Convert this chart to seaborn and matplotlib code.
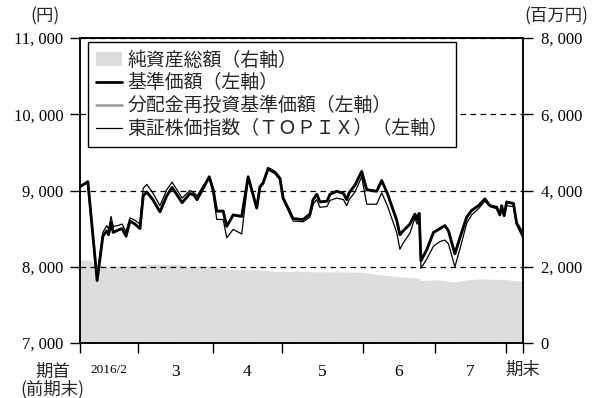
import numpy as np
import pandas as pd
import seaborn as sns
import matplotlib.pyplot as plt
from matplotlib.patches import Patch
from matplotlib.lines import Line2D
from matplotlib.ticker import FuncFormatter

sns.set_theme(style="ticks")
plt.rcParams['font.family'] = ['Liberation Serif', 'Noto Sans CJK JP']

# position in trading days from 期首 (0) to 期末 (124)
day = [0, 2.2, 4.8, 6.4, 7.5, 8.0, 8.7, 9.3, 10.6, 11.8, 12.9, 14.0, 15.4, 16.8,
       17.7, 18.7, 20.4, 22.4, 24.3, 25.8, 28.6, 30.8, 31.9, 32.8, 34.5, 36.2,
       37.3, 38.3, 40.1, 41.1, 42.9, 45.3, 47.1, 49.5, 50.4, 51.3, 52.7, 54.6,
       56.0, 56.9, 59.7, 62.5, 64.4, 65.3, 66.3, 67.2, 69.2, 70.0, 71.9, 73.8,
       74.7, 75.4, 77.0, 78.9, 80.3, 83.1, 84.5, 86.1, 88.7, 89.6, 90.5, 92.4,
       93.8, 94.4, 95.0, 95.5, 97.1, 99.0, 100.8, 102.2, 103.2, 105.0, 106.4,
       108.3, 109.7, 111.6, 113.4, 114.8, 116.7, 117.6, 118.1, 118.8, 119.5,
       121.4, 122.3, 124.0]

# 基準価額 (円)
nav = [9050, 9115, 7820, 8400, 8470, 8420, 8580, 8450, 8480, 8500, 8400, 8600, 8560, 8500,
       8930, 8980, 8880, 8720, 8930, 9040, 8840, 8960, 8940, 8880, 9030, 9180,
       9010, 8730, 8730, 8530, 8680, 8660, 9180, 8770, 9050, 9100, 9290, 9240,
       9160, 8900, 8630, 8620, 8690, 8880, 8950, 8850, 8860, 8950, 8990, 8960,
       8880, 8970, 9070, 9250, 9010, 8990, 9130, 8960, 8610, 8420, 8470, 8560,
       8690, 8620, 8700, 8080, 8220, 8450, 8500, 8540, 8470, 8170, 8380,
       8650, 8740, 8800, 8890, 8800, 8780, 8680, 8800, 8670, 8850,
       8830, 8570, 8440]

# 分配金再投資基準価額 (円) - no distribution during the period
reinvest = [9050, 9115, 7820, 8400, 8470, 8420, 8580, 8450, 8480, 8500, 8400, 8600, 8560, 8500,
            8930, 8980, 8880, 8720, 8930, 9040, 8840, 8960, 8940, 8880, 9030, 9180,
            9010, 8730, 8730, 8530, 8680, 8660, 9180, 8770, 9050, 9100, 9290, 9240,
            9160, 8900, 8630, 8620, 8690, 8880, 8950, 8850, 8860, 8950, 8990, 8960,
            8880, 8970, 9070, 9250, 9010, 8990, 9130, 8960, 8610, 8420, 8470, 8560,
            8690, 8620, 8700, 8080, 8220, 8450, 8500, 8540, 8470, 8170, 8380,
            8650, 8740, 8800, 8890, 8800, 8780, 8680, 8800, 8670, 8850,
            8830, 8570, 8440]

# 東証株価指数 (TOPIX), rebased to the fund
topix = [9050, 9110, 7830, 8450, 8540, 8490, 8660, 8530, 8540, 8560, 8460, 8640, 8610, 8560,
         9030, 9080, 8970, 8800, 9010, 9110, 8900, 9000, 8970, 8930, 9060, 9170,
         8960, 8620, 8620, 8380, 8490, 8430, 9150, 8760, 9030, 9080, 9270, 9220,
         9140, 8880, 8600, 8590, 8650, 8820, 8880, 8780, 8790, 8870, 8900, 8880,
         8800, 8880, 8980, 9180, 8820, 8820, 8970, 8800, 8450, 8230, 8310, 8440,
         8640, 8560, 8650, 7980, 8100, 8270, 8330, 8350, 8300, 8000, 8230,
         8570, 8680, 8760, 8860, 8790, 8760, 8690, 8780, 8660, 8800,
         8790, 8550, 8380]

# 純資産総額 (百万円)
asset_day = [0, 3, 4, 10, 17, 19, 28, 30, 38, 40, 50, 55, 65, 79, 82, 90, 95,
             95.5, 100, 105, 108, 112, 119, 124]
net_assets = [2180, 2170, 2030, 2020, 2030, 2070, 2060, 2020, 2010, 1940, 1920, 1880,
              1870, 1860, 1810, 1730, 1700, 1640, 1660, 1600, 1650, 1680, 1670, 1610]

month_edges = [0, 16.3, 37.3, 56.5, 79.2, 99.4, 119.3, 124]
month_labels = ['2016/2', '3', '4', '5', '6', '7']

df = pd.DataFrame({'day': day, 'nav': nav, 'reinvest': reinvest, 'topix': topix})

fig = plt.figure(figsize=(5.93, 3.98), dpi=100)
ax = fig.add_axes([0.1349, 0.1382, 0.7466, 0.7663])
ax2 = ax.twinx()

ax2.fill_between(asset_day, net_assets, color='#dcdddd', lw=0)
ax2.set_ylim(0, 8000)
ax2.set_yticks([0, 2000, 4000, 6000, 8000])
ax.set_zorder(ax2.get_zorder() + 1)
ax.patch.set_visible(False)

sns.lineplot(data=df, x='day', y='reinvest', ax=ax, color='#999999', lw=1.8, estimator=None)
sns.lineplot(data=df, x='day', y='topix', ax=ax, color='black', lw=0.9, estimator=None)
sns.lineplot(data=df, x='day', y='nav', ax=ax, color='black', lw=2.0, estimator=None)

ax.set_xlim(0, 124)
ax.set_ylim(7000, 11000)
ax.set_yticks([7000, 8000, 9000, 10000, 11000])
ax.set_xlabel('')
ax.set_ylabel('')
ax.grid(axis='y', color='black', linestyle=(0, (4.5, 3.5)), lw=0.9)

fmt = FuncFormatter(lambda v, _: f"{int(v):,}".replace(',', ', '))
ax.yaxis.set_major_formatter(fmt)
ax2.yaxis.set_major_formatter(fmt)

for a in (ax, ax2):
    for s in a.spines.values():
        s.set_color('black')
        s.set_linewidth(1.1)
ax.tick_params(axis='y', direction='out', length=7, width=1, colors='black', labelsize=12, pad=5)
ax2.tick_params(axis='y', direction='out', length=7, width=1, colors='black', labelsize=12, pad=6)

ax.set_xticks(month_edges)
ax.set_xticklabels([])
ax.tick_params(axis='x', which='major', direction='out', length=7, width=1, colors='black')
centers = [(month_edges[i] + month_edges[i + 1]) / 2 for i in range(len(month_labels))]
ax.set_xticks(centers, minor=True)
ax.set_xticklabels(month_labels, minor=True)
ax.tick_params(axis='x', which='minor', length=0, labelsize=12.5, pad=15, colors='black')
ax.get_xticklabels(minor=True)[0].set_fontsize(9.5)

ax.annotate('期首\n(前期末)', xy=(0, 0), xycoords=('data', 'axes fraction'),
            xytext=(-20, -14), textcoords='offset points', ha='center', va='top',
            fontsize=12.5, linespacing=1.0, family=['Noto Sans CJK JP'])
ax.annotate('期末', xy=(124, 0), xycoords=('data', 'axes fraction'),
            xytext=(0, -13), textcoords='offset points', ha='center', va='top',
            fontsize=12.5, family=['Noto Sans CJK JP'])

fig.text(45 / 593, 1 - 16 / 398, '(円)', ha='center', va='center', fontsize=12.5,
         family=['Noto Sans CJK JP'])
fig.text(556 / 593, 1 - 16 / 398, '(百万円)', ha='center', va='center', fontsize=12.5,
         family=['Noto Sans CJK JP'])

handles = [Patch(facecolor='#dcdddd', edgecolor='none'),
           Line2D([], [], color='black', lw=2.0),
           Line2D([], [], color='#999999', lw=1.8),
           Line2D([], [], color='black', lw=0.9)]
labels = ['純資産総額（右軸）', '基準価額（左軸）', '分配金再投資基準価額（左軸）',
          '東証株価指数（ＴＯＰＩＸ）（左軸）']
leg = ax.legend(handles, labels, loc='upper left', bbox_to_anchor=(0.018, 0.987),
                borderaxespad=0, frameon=True, fancybox=False, framealpha=1,
                edgecolor='black', facecolor='white', handlelength=1.4,
                handletextpad=0.3, labelspacing=0.1, borderpad=0.4,
                prop={'family': ['Noto Sans CJK JP'], 'size': 13.6})
leg.get_frame().set_linewidth(1.0)
leg.set_zorder(10)

fig.savefig('out.png', dpi=100)
